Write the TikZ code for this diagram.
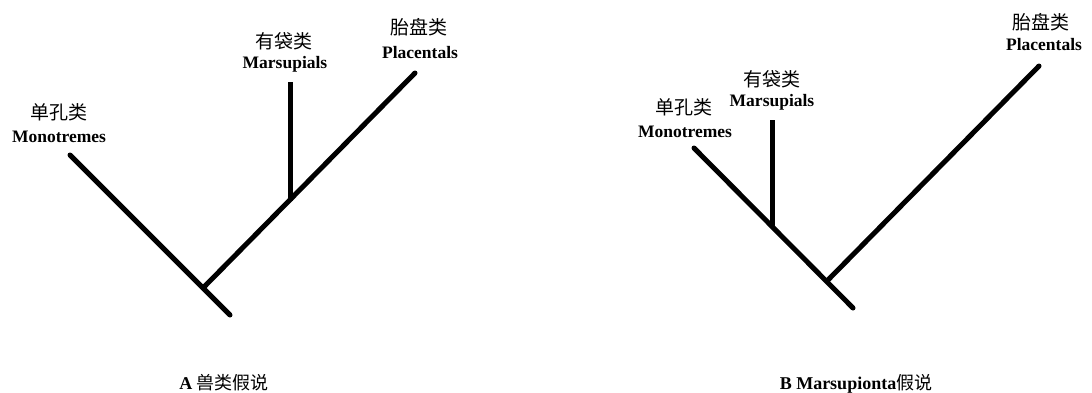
\documentclass[tikz,border=0pt]{standalone}
\usepackage{fontspec}
\setmainfont{Liberation Serif}
\newfontfamily\cjk{Noto Sans CJK SC}
\begin{document}
\begin{tikzpicture}[x=1pt,y=-1pt,
  branch/.style={line width=5pt, line cap=round},
  stem/.style={line width=5pt, line cap=butt},
  zh/.style={font=\cjk\fontsize{19}{19}\selectfont, inner sep=0pt, anchor=center},
  en/.style={font=\bfseries\fontsize{17.5}{18}\selectfont, inner sep=0pt, anchor=base},
  captext/.style={font=\bfseries\fontsize{18}{18}\selectfont, inner sep=0pt, anchor=base}]
\useasboundingbox (0,0) rectangle (1092,392);
% ---- tree A ----
\coordinate (a-mono) at (70,155);
\coordinate (a-root) at (230,315);
\coordinate (a-j1) at (203,288);
\coordinate (a-plac) at (415,73);
\coordinate (a-j2) at (290,201);
\coordinate (a-mars) at (290,82);
\draw[branch] (a-mono) -- (a-root);
\draw[branch] (a-j1) -- (a-plac);
\draw[stem] (a-j2) -- (a-mars);
\node[zh] (a-mono-zh) at (59,112) {单孔类};
\node[en] (a-mono-en) at (59,142) {Monotremes};
\node[zh] (a-mars-zh) at (284,41) {有袋类};
\node[en] (a-mars-en) at (285,68) {Marsupials};
\node[zh] (a-plac-zh) at (419,27) {胎盘类};
\node[en] (a-plac-en) at (420,58) {Placentals};
\node[captext] (a-cap) at (224,389) {A {\cjk\mdseries 兽类假说}};
% ---- tree B ----
\coordinate (b-mono) at (694,148);
\coordinate (b-root) at (853,308);
\coordinate (b-j1) at (827,281);
\coordinate (b-plac) at (1039,66);
\coordinate (b-j2) at (772,226);
\coordinate (b-mars) at (772,120);
\draw[branch] (b-mono) -- (b-root);
\draw[branch] (b-j1) -- (b-plac);
\draw[stem] (b-j2) -- (b-mars);
\node[zh] (b-mono-zh) at (684,107) {单孔类};
\node[en] (b-mono-en) at (685,137) {Monotremes};
\node[zh] (b-mars-zh) at (772,79) {有袋类};
\node[en] (b-mars-en) at (772,106) {Marsupials};
\node[zh] (b-plac-zh) at (1041,22) {胎盘类};
\node[en] (b-plac-en) at (1044,50) {Placentals};
\node[captext] (b-cap) at (856,389) {B Marsupionta{\cjk\mdseries 假说}};
\end{tikzpicture}
\end{document}
